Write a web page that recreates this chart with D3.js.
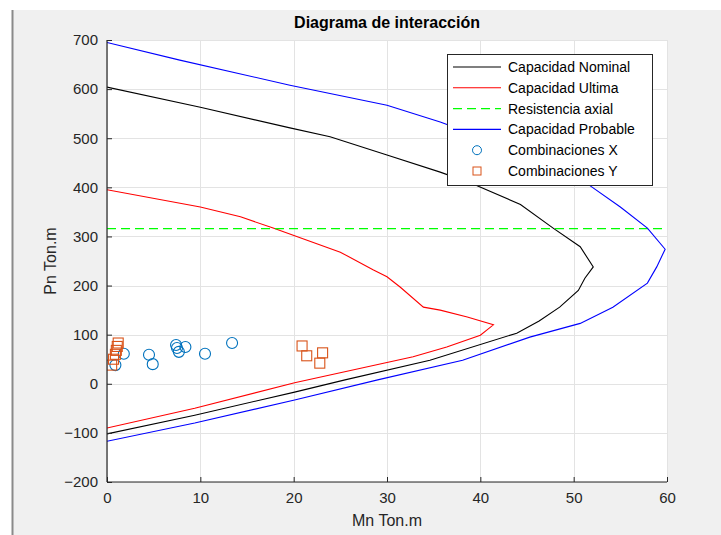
<!DOCTYPE html>
<html><head><meta charset="utf-8">
<script src="https://cdn.jsdelivr.net/npm/d3@7"></script>
<style>
html,body{margin:0;padding:0;background:#fff;}
svg{display:block;font-family:"Liberation Sans",Arial,Helvetica,sans-serif;}
</style></head>
<body>
<svg id="chart" width="721" height="535"></svg>
<script>
// ---- data ----
const nominalM = [0, 10, 19.6, 23.9, 30, 35.7, 39.1, 44.3, 47.8, 50.7, 52.1, 51.2, 50.5, 48.5, 46.3, 43.9, 34.6, 25.5, 20.1, 9.4, 0];
const nominalP = [604, 563, 521, 503, 466, 431, 408, 365, 317, 279, 238, 215, 190, 156, 128, 103, 48, 8, -17, -64, -102];
const ultimaM = [0, 10, 14.3, 17.8, 25, 28.5, 30, 31.4, 33.9, 35.7, 38.6, 41.4, 40, 36.4, 32.8, 20.1, 9.4, 0];
const ultimaP = [395, 360, 340, 317, 268, 232, 218, 197, 156, 150, 136, 120, 99, 75, 55, 2, -50, -90];
const axialM = [0, 60];
const axialP = [316, 316];
const probableM = [0, 7.8, 19.6, 30, 35.7, 41, 45.5, 51.4, 55, 57.9, 59.8, 58.9, 57.9, 54.2, 50.7, 45.3, 38.1, 29, 20.1, 9.4, 0];
const probableP = [695, 659, 608, 567, 533, 496, 460, 408, 360, 317, 274, 238, 205, 156, 123, 95, 48, 8, -33, -80, -117];
const combXM = [0.9, 1.8, 4.5, 4.9, 7.4, 7.5, 8.4, 7.7, 10.5, 13.4];
const combXP = [38, 61, 59, 40, 79, 73, 75, 65, 61, 83];
const combYM = [1.2, 1.1, 1.0, 0.9, 0.7, 0.5, 20.9, 21.4, 23.1, 22.8];
const combYP = [83, 76, 68, 60, 50, 38, 77, 57, 63, 42];
const xTicks = [0, 10, 20, 30, 40, 50, 60];
const yTicks = [-200, -100, 0, 100, 200, 300, 400, 500, 600, 700];
const legendLabels = ["Capacidad Nominal", "Capacidad Ultima", "Resistencia axial", "Capacidad Probable", "Combinaciones X", "Combinaciones Y"];
const titleText = "Diagrama de interacción";
const xLabel = "Mn Ton.m";
const yLabel = "Pn Ton.m";

// ---- layout ----
const svg = d3.select("#chart");
const L = 107, R = 667, T = 40, B = 482;
const x = d3.scaleLinear().domain([0, 60]).range([L, R]);
const y = d3.scaleLinear().domain([-200, 700]).range([B, T]);
const axisColor = "#262626";

svg.append("rect").attr("x", 12).attr("y", 10).attr("width", 709).attr("height", 525).attr("fill", "#f0f0f0");
svg.append("line").attr("x1", 12.5).attr("x2", 12.5).attr("y1", 10).attr("y2", 535).attr("stroke", "#8a8a8a").attr("stroke-width", 2);
svg.append("rect").attr("x", L).attr("y", T).attr("width", R - L).attr("height", B - T).attr("fill", "#fff");

// grid
const grid = svg.append("g").attr("stroke", "#e3e3e3").attr("stroke-width", 1);
grid.selectAll(".gx").data(xTicks).join("line")
  .attr("x1", d => Math.round(x(d)) + 0.5).attr("x2", d => Math.round(x(d)) + 0.5)
  .attr("y1", T).attr("y2", B);
grid.selectAll(".gy").data(yTicks).join("line")
  .attr("y1", d => Math.round(y(d)) + 0.5).attr("y2", d => Math.round(y(d)) + 0.5)
  .attr("x1", L).attr("x2", R);

// lines
const pts = (mx, py) => mx.map((m, i) => [m, py[i]]);
const line = d3.line().x(d => x(d[0])).y(d => y(d[1]));
const series = [
  {m: nominalM, p: nominalP, c: "#000000", dash: null},
  {m: ultimaM, p: ultimaP, c: "#ff0000", dash: null},
  {m: axialM, p: axialP, c: "#00ff00", dash: "9,5"},
  {m: probableM, p: probableP, c: "#0000ff", dash: null}
];
const clip = svg.append("clipPath").attr("id", "pc").append("rect")
  .attr("x", L).attr("y", T).attr("width", R - L + 1).attr("height", B - T);
const plot = svg.append("g").attr("clip-path", "url(#pc)");
series.forEach(s => {
  plot.append("path").attr("d", line(pts(s.m, s.p))).attr("fill", "none")
    .attr("stroke", s.c).attr("stroke-width", 1.1)
    .attr("stroke-dasharray", s.dash);
});

// markers
plot.selectAll(".cx").data(pts(combXM, combXP)).join("circle")
  .attr("cx", d => x(d[0])).attr("cy", d => y(d[1])).attr("r", 5.5)
  .attr("fill", "none").attr("stroke", "#0072BD").attr("stroke-width", 1.1);
plot.selectAll(".cy").data(pts(combYM, combYP)).join("rect")
  .attr("x", d => x(d[0]) - 5).attr("y", d => y(d[1]) - 5).attr("width", 10).attr("height", 10)
  .attr("fill", "none").attr("stroke", "#D95319").attr("stroke-width", 1.1);

// axes
const xAxis = d3.axisBottom(x).tickValues(xTicks).tickSize(-5).tickPadding(10).tickFormat(d3.format("d"));
const yAxis = d3.axisLeft(y).tickValues(yTicks).tickSize(-5).tickPadding(9).tickFormat(d3.format("d"));
const gx = svg.append("g").attr("transform", `translate(0,${B})`).call(xAxis);
const gy = svg.append("g").attr("transform", `translate(${L},0)`).call(yAxis);
[gx, gy].forEach(g => {
  g.select(".domain").attr("stroke", axisColor).attr("stroke-width", 1.2);
  g.selectAll(".tick line").attr("stroke", axisColor).attr("stroke-width", 1);
  g.selectAll(".tick text").attr("fill", axisColor).style("font-size", "15px")
    .style("font-family", "'Liberation Sans', Arial, sans-serif");
});
gx.select(".domain").attr("d", `M${L},0H${R}`);
gy.select(".domain").attr("d", `M0,${T}V${B}`);

// title & labels
svg.append("text").attr("x", (L + R) / 2).attr("y", 28).attr("text-anchor", "middle")
  .attr("font-weight", "bold").attr("font-size", 16).attr("fill", "#000").text(titleText);
svg.append("text").attr("x", (L + R) / 2).attr("y", 526).attr("text-anchor", "middle")
  .attr("font-size", 16).attr("fill", axisColor).text(xLabel);
svg.append("text").attr("transform", `translate(56,${(T + B) / 2}) rotate(-90)`).attr("text-anchor", "middle")
  .attr("font-size", 16).attr("fill", axisColor).text(yLabel);

// legend
const lg = svg.append("g");
lg.append("rect").attr("x", 447.5).attr("y", 54.5).attr("width", 205).attr("height", 131)
  .attr("fill", "#fff").attr("stroke", "#262626").attr("stroke-width", 1);
const rowY = i => 67 + i * 20.8;
const legendStyles = [
  {type: "line", c: "#000000"}, {type: "line", c: "#ff0000"}, {type: "line", c: "#00ff00", dash: "9,5"},
  {type: "line", c: "#0000ff"}, {type: "circle", c: "#0072BD"}, {type: "square", c: "#D95319"}
];
legendLabels.forEach((lab, i) => {
  const st = legendStyles[i];
  const yy = rowY(i);
  if (st.type === "line") {
    lg.append("line").attr("x1", 453).attr("x2", 501).attr("y1", yy).attr("y2", yy)
      .attr("stroke", st.c).attr("stroke-width", 1.1).attr("stroke-dasharray", st.dash || null);
  } else if (st.type === "circle") {
    lg.append("circle").attr("cx", 477).attr("cy", yy).attr("r", 4.5)
      .attr("fill", "none").attr("stroke", st.c).attr("stroke-width", 1);
  } else {
    lg.append("rect").attr("x", 473).attr("y", yy - 4).attr("width", 8).attr("height", 8)
      .attr("fill", "none").attr("stroke", st.c).attr("stroke-width", 1);
  }
  lg.append("text").attr("x", 508).attr("y", yy).attr("dy", "0.35em")
    .attr("font-size", 14).attr("fill", "#000").text(lab);
});
</script>
</body></html>
